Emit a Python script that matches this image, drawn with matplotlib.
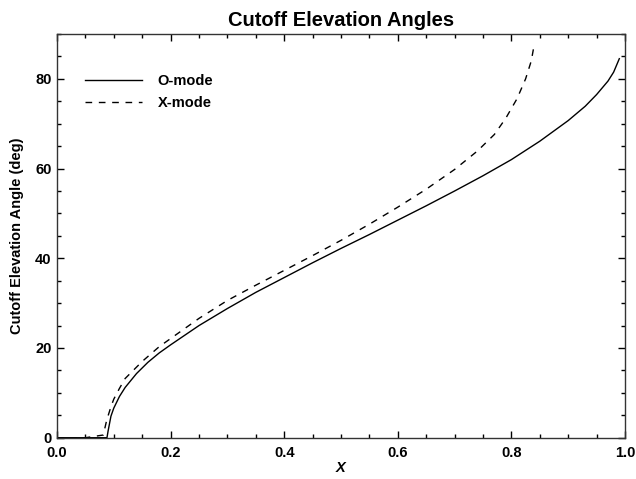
import matplotlib
matplotlib.use("Agg")
import matplotlib.pyplot as plt
from matplotlib.ticker import MultipleLocator

# values
x_omode = [0.0, 0.05, 0.088, 0.090, 0.095, 0.10, 0.11, 0.12, 0.14, 0.16, 0.18, 0.20,
           0.25, 0.30, 0.35, 0.40, 0.45, 0.50, 0.55, 0.60, 0.65, 0.70, 0.75, 0.80,
           0.85, 0.90, 0.93, 0.95, 0.97, 0.98, 0.99]
ang_omode = [0.0, 0.0, 0.0, 1.5, 4.8, 6.6, 9.2, 11.2, 14.3, 16.8, 18.9, 20.7,
             25.0, 28.8, 32.4, 35.7, 39.0, 42.2, 45.3, 48.5, 51.7, 55.0, 58.4, 62.0,
             66.1, 70.7, 73.9, 76.5, 79.5, 81.5, 84.5]

x_xmode = [0.0, 0.05, 0.0815, 0.0875, 0.095, 0.10, 0.11, 0.12, 0.15, 0.18, 0.21,
           0.25, 0.30, 0.35, 0.40, 0.45, 0.50, 0.55, 0.60, 0.65, 0.70, 0.74, 0.77,
           0.79, 0.81, 0.825, 0.835, 0.84]
ang_xmode = [0.0, 0.0, 0.6, 3.9, 6.9, 8.6, 11.0, 13.2, 17.0, 20.3, 23.0,
             26.6, 30.6, 34.0, 37.3, 40.6, 44.0, 47.6, 51.4, 55.4, 59.8, 63.9, 67.6,
             71.2, 75.6, 80.0, 84.0, 87.5]

labels = ["O-mode", "X-mode"]

plt.rcParams['font.family'] = ['Liberation Sans', 'DejaVu Sans']
plt.rcParams['font.weight'] = 'bold'

fig = plt.figure(figsize=(6.36, 4.79), dpi=100)
ax = fig.add_axes([0.0896, 0.0862, 0.8931, 0.8428])

ax.plot(x_omode, ang_omode, color='black', lw=1.0, label=labels[0])
ax.plot(x_xmode, ang_xmode, color='black', lw=1.0, dashes=(4.8, 4.8), label=labels[1])

ax.set_xlim(0.0, 1.0)
ax.set_ylim(0, 90)
ax.xaxis.set_major_locator(MultipleLocator(0.2))
ax.xaxis.set_minor_locator(MultipleLocator(0.05))
ax.yaxis.set_major_locator(MultipleLocator(20))
ax.yaxis.set_minor_locator(MultipleLocator(5))
ax.xaxis.set_major_formatter(plt.FormatStrFormatter('%.1f'))

ax.tick_params(which='both', direction='in', top=True, right=True, labelsize=10.5)
ax.tick_params(which='major', length=5, width=1.0)
ax.tick_params(which='minor', length=3, width=1.0)
ax.tick_params(axis='x', pad=6)
ax.tick_params(axis='y', pad=4)
for lab in ax.get_xticklabels() + ax.get_yticklabels():
    lab.set_fontweight('bold')
for sp in ax.spines.values():
    sp.set_linewidth(1.0)
    sp.set_color('#333333')

ax.set_title("Cutoff Elevation Angles", fontsize=14.5, fontweight='bold', pad=6)
ax.set_xlabel("X", fontsize=10.5, fontweight='bold', style='italic', labelpad=1)
ax.set_ylabel("Cutoff Elevation Angle (deg)", fontsize=10.5, fontweight='bold', labelpad=8)

leg = ax.legend(loc='upper left', bbox_to_anchor=(0.049, 0.901), frameon=False,
                borderpad=0, borderaxespad=0, handlelength=3.9, handletextpad=1.1,
                labelspacing=0.55, prop={'weight': 'bold', 'size': 10.5})

fig.savefig("out.png", dpi=100)
